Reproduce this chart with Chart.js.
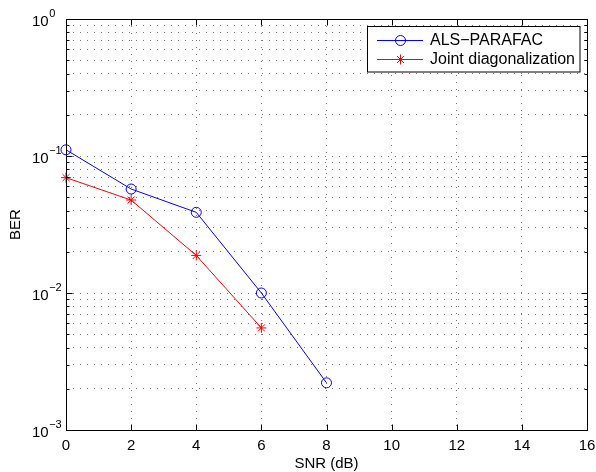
<!DOCTYPE html>
<html><head><meta charset="utf-8">
<script src="https://cdn.jsdelivr.net/npm/chart.js@4"></script>
<style>html,body{margin:0;padding:0;background:#fff}canvas{display:block}</style>
</head><body>
<canvas id="c" width="596" height="472"></canvas>
<script>
// ---- data ----
const snrAls = [0, 2, 4, 6, 8];
const alsParafac = [0.111, 0.0574, 0.0388, 0.0100, 0.00221];
const snrJoint = [0, 2, 4, 6];
const jointDiag = [0.0695, 0.0477, 0.0188, 0.00556];
const xTicks = [0, 2, 4, 6, 8, 10, 12, 14, 16];
const yDecades = [-3, -2, -1, 0];
const seriesNames = ['ALS\u2212PARAFAC', 'Joint diagonalization'];
const xLabel = 'SNR (dB)';
const yLabel = 'BER';

const FONT = '"Liberation Sans", Arial, Helvetica, sans-serif';
const BLUE = '#0000ff', RED = '#ff0000';

const yTickVals = [];
for (let i = 0; i < yDecades.length - 1; i++) {
  for (let s = 1; s <= 9; s++) yTickVals.push({value: s * Math.pow(10, yDecades[i]), major: s === 1});
}
yTickVals.push({value: Math.pow(10, yDecades[yDecades.length - 1]), major: true});

function drawStar(ctx, cx, cy, r) {
  ctx.beginPath();
  ctx.moveTo(cx - r, cy); ctx.lineTo(cx + r, cy);
  ctx.moveTo(cx, cy - r); ctx.lineTo(cx, cy + r);
  const d = r * 0.7071;
  ctx.moveTo(cx - d, cy - d); ctx.lineTo(cx + d, cy + d);
  ctx.moveTo(cx - d, cy + d); ctx.lineTo(cx + d, cy - d);
  ctx.stroke();
}

const deco = {
  id: 'deco',
  afterDraw(chart) {
    const {ctx, chartArea: a, scales: {x, y}} = chart;
    ctx.save();
    const L = Math.round(a.left) + 0.5, R = Math.round(a.right) + 0.5;
    const T = Math.round(a.top) + 0.5, B = Math.round(a.bottom) + 0.5;
    // frame
    ctx.strokeStyle = '#000'; ctx.lineWidth = 1; ctx.setLineDash([]);
    ctx.strokeRect(L, T, R - L, B - T);
    // tick marks
    ctx.beginPath();
    xTicks.forEach(v => {
      const px = Math.round(x.getPixelForValue(v)) + 0.5;
      ctx.moveTo(px, B); ctx.lineTo(px, B - 6);
      ctx.moveTo(px, T); ctx.lineTo(px, T + 6);
    });
    yTickVals.forEach(t => {
      const py = Math.round(y.getPixelForValue(t.value)) + 0.5;
      const len = t.major ? 6 : 3;
      ctx.moveTo(L, py); ctx.lineTo(L + len, py);
      ctx.moveTo(R, py); ctx.lineTo(R - len, py);
    });
    ctx.stroke();
    // x tick labels
    ctx.fillStyle = '#000';
    ctx.font = '15px ' + FONT;
    ctx.textAlign = 'center'; ctx.textBaseline = 'alphabetic';
    xTicks.forEach(v => ctx.fillText(String(v), x.getPixelForValue(v), 450));
    // y tick labels 10^n
    yDecades.forEach(d => {
      const py = y.getPixelForValue(Math.pow(10, d));
      ctx.font = '15px ' + FONT; ctx.textAlign = 'left';
      ctx.fillText('10', 32, py + 7);
      const w = ctx.measureText('10').width;
      ctx.font = '11px ' + FONT;
      ctx.fillText(d === 0 ? '0' : '\u2212' + Math.abs(d), 32 + w + 0.5, py - 2);
    });
    // axis titles
    ctx.font = '15px ' + FONT; ctx.textAlign = 'center';
    ctx.fillText(xLabel, (a.left + a.right) / 2, 468);
    ctx.save();
    ctx.translate(20, (a.top + a.bottom) / 2);
    ctx.rotate(-Math.PI / 2);
    ctx.fillText(yLabel, 0, 0);
    ctx.restore();
    // legend
    const lx = 367.5, ly = 26.5, lw = 212.5, lh = 45.5;
    ctx.fillStyle = '#fff'; ctx.fillRect(lx, ly, lw, lh);
    ctx.strokeStyle = '#000'; ctx.strokeRect(lx, ly, lw, lh);
    const rows = [40, 59];
    const cols = [BLUE, RED];
    rows.forEach((ry, i) => {
      ctx.strokeStyle = cols[i]; ctx.lineWidth = 1;
      ctx.beginPath(); ctx.moveTo(377, ry + 0.5); ctx.lineTo(423, ry + 0.5); ctx.stroke();
      if (i === 0) { ctx.beginPath(); ctx.arc(400.5, ry + 0.5, 5, 0, Math.PI * 2); ctx.stroke(); }
      else drawStar(ctx, 400.5, ry + 0.5, 5);
      ctx.fillStyle = '#000'; ctx.font = '16px ' + FONT; ctx.textAlign = 'left'; ctx.textBaseline = 'middle';
      ctx.fillText(seriesNames[i], 430, ry + 1);
    });
    ctx.restore();
  }
};

new Chart(document.getElementById('c'), {
  type: 'line',
  data: {
    datasets: [
      {label: seriesNames[0], data: snrAls.map((v, i) => ({x: v, y: alsParafac[i]})),
       borderColor: BLUE, backgroundColor: 'transparent', borderWidth: 1,
       pointStyle: 'circle', pointRadius: 5, pointBorderColor: BLUE, pointBackgroundColor: 'rgba(0,0,0,0)',
       pointBorderWidth: 1, tension: 0, clip: false},
      {label: seriesNames[1], data: snrJoint.map((v, i) => ({x: v, y: jointDiag[i]})),
       borderColor: RED, backgroundColor: 'transparent', borderWidth: 1,
       pointStyle: 'star', pointRadius: 5, pointBorderColor: RED, pointBackgroundColor: RED,
       pointBorderWidth: 1, tension: 0, clip: false}
    ]
  },
  options: {
    responsive: false, animation: false, devicePixelRatio: 1,
    layout: {padding: {left: 66, right: 9, top: 19, bottom: 42}},
    plugins: {legend: {display: false}, tooltip: {enabled: false}},
    scales: {
      x: {type: 'linear', min: 0, max: 16,
          afterBuildTicks: s => { s.ticks = xTicks.map(v => ({value: v})); },
          ticks: {display: false},
          grid: {color: '#777', lineWidth: 1, drawTicks: false, tickLength: 0},
          border: {display: false, dash: [1, 6]}},
      y: {type: 'logarithmic', min: 0.001, max: 1,
          afterBuildTicks: s => { s.ticks = yTickVals.map(t => ({value: t.value, major: t.major})); },
          ticks: {display: false, autoSkip: false},
          grid: {color: '#777', lineWidth: 1, drawTicks: false, tickLength: 0},
          border: {display: false, dash: [1, 6]}}
    }
  },
  plugins: [deco]
});
</script>
</body></html>
